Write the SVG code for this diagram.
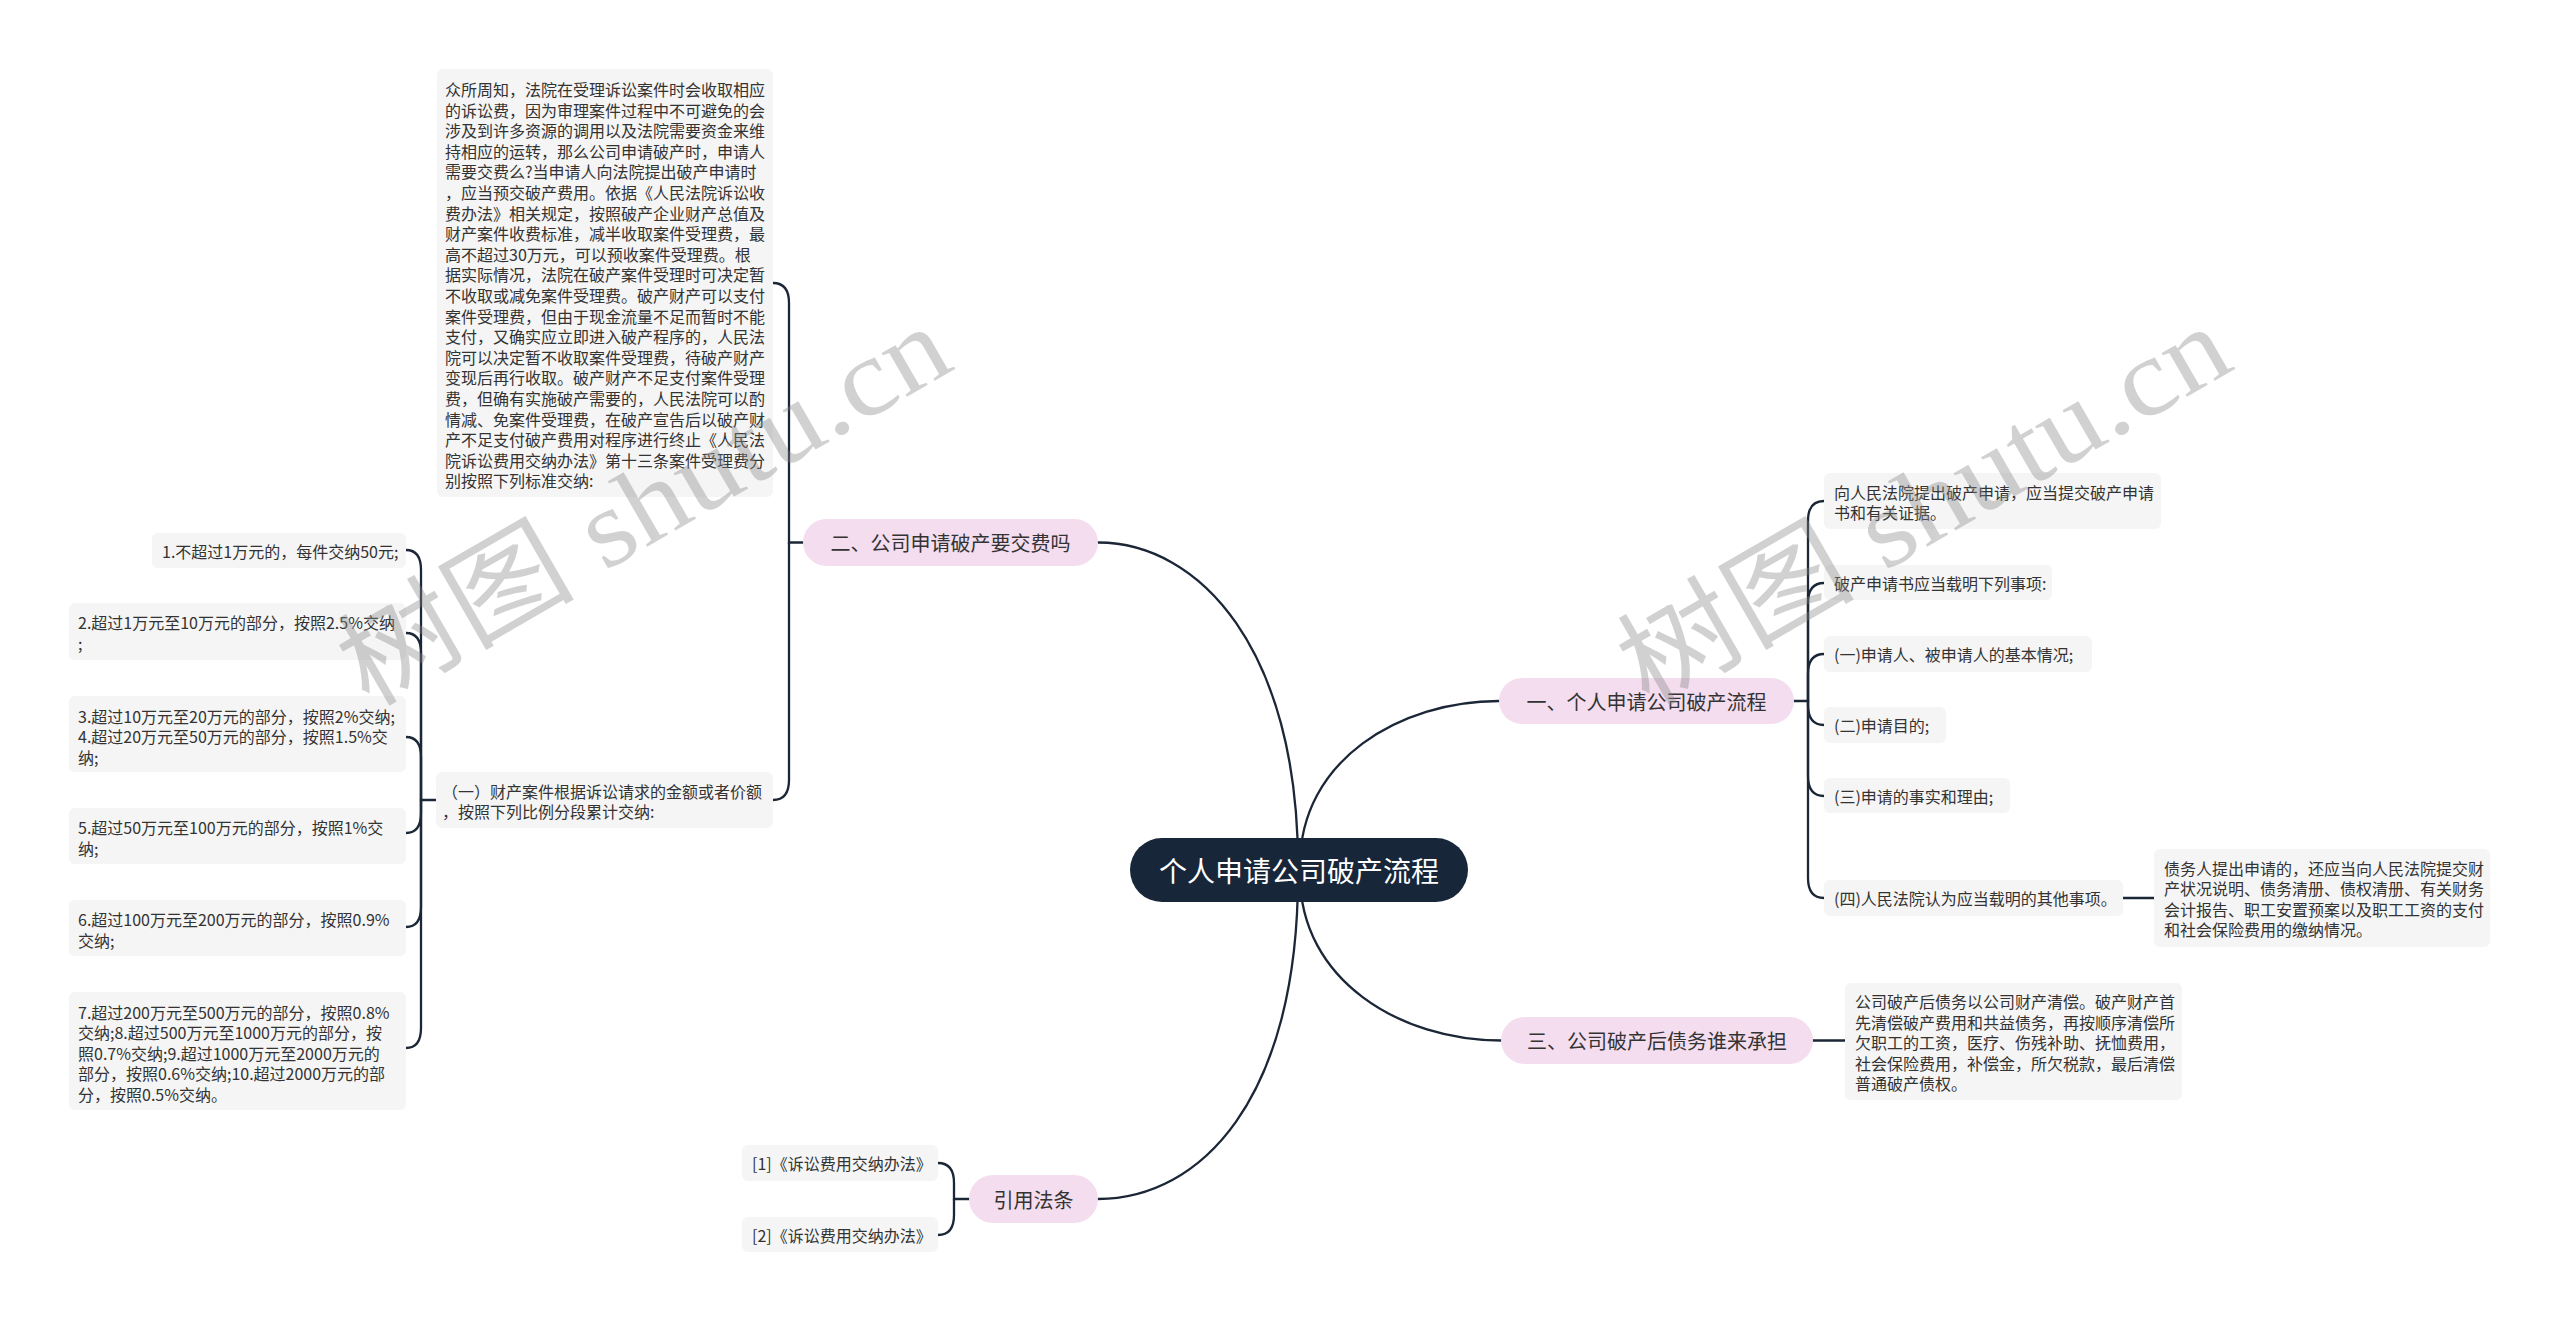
<svg xmlns="http://www.w3.org/2000/svg" width="2560" height="1322" viewBox="0 0 2560 1322">
<style>
.t{font-family:"Noto Sans CJK SC","Noto Sans",sans-serif;font-size:16px;fill:#333;dominant-baseline:central}
.b{font-family:"Noto Sans CJK SC","Noto Sans",sans-serif;font-size:20px;fill:#333;dominant-baseline:central;text-anchor:middle}
.r{font-family:"Noto Sans CJK SC","Noto Sans",sans-serif;font-size:28px;fill:#ffffff;dominant-baseline:central;text-anchor:middle}
.leaf{fill:#f5f5f5}
.br{fill:#f4ddef}
.ln{fill:none;stroke:#1b2636;stroke-width:2.3;stroke-linecap:round}
.wm{font-family:"Liberation Serif","Noto Sans CJK SC",serif;font-size:110px;fill:#888;opacity:0.38}
</style>
<rect width="2560" height="1322" fill="#ffffff"/>
<g id="connectors">
<path class="ln" d="M1098,542.5 C1200,542.5 1298,650 1298,865"/>
<path class="ln" d="M1300,865 C1300,760 1400,701 1499,701"/>
<path class="ln" d="M1300,875 C1300,980 1400,1040.5 1501,1040.5"/>
<path class="ln" d="M1298,875 C1298,1100 1200,1199 1098,1199"/>
<path class="ln" d="M803,542.5 H789 V303 Q789,283 773,283"/>
<path class="ln" d="M789,542.5 V780 Q789,800 773,800"/>
<path class="ln" d="M436,800 H421 V570 Q421,550 406,550"/>
<path class="ln" d="M421,800 V653 Q421,633 406,633"/>
<path class="ln" d="M421,800 V757 Q421,737 406,737"/>
<path class="ln" d="M421,800 V813 Q421,833 406,833"/>
<path class="ln" d="M421,800 V907 Q421,927 406,927"/>
<path class="ln" d="M421,800 V1028 Q421,1048 406,1048"/>
<path class="ln" d="M1794,701 H1808 V521 Q1808,501 1824,501"/>
<path class="ln" d="M1808,701 V603 Q1808,583 1824,583"/>
<path class="ln" d="M1808,701 V674 Q1808,654 1824,654"/>
<path class="ln" d="M1808,701 V705 Q1808,725 1824,725"/>
<path class="ln" d="M1808,701 V776 Q1808,796 1824,796"/>
<path class="ln" d="M1808,701 V878 Q1808,898 1824,898"/>
<path class="ln" d="M2123,898 H2154"/>
<path class="ln" d="M1813,1040.5 H1845"/>
<path class="ln" d="M969,1199 H954 V1183 Q954,1163 938,1163"/>
<path class="ln" d="M954,1199 V1215 Q954,1235 938,1235"/>
</g>
<g id="root">
<rect x="1130" y="838" width="338" height="64" rx="32" fill="#18263a"/>
<text class="r" x="1299" y="870">个人申请公司破产流程</text>
</g>
<g id="b2">
<rect class="br" x="803" y="519" width="295" height="47" rx="23.5"/>
<text class="b" x="950.5" y="542.5">二、公司申请破产要交费吗</text>
</g>
<g id="b1">
<rect class="br" x="1499" y="678" width="295" height="46" rx="23"/>
<text class="b" x="1646.5" y="701">一、个人申请公司破产流程</text>
</g>
<g id="b3">
<rect class="br" x="1501" y="1017" width="312" height="47" rx="23.5"/>
<text class="b" x="1657" y="1040.5">三、公司破产后债务谁来承担</text>
</g>
<g id="b4">
<rect class="br" x="969" y="1175" width="129" height="48" rx="24"/>
<text class="b" x="1033.5" y="1199">引用法条</text>
</g>
<g id="a-text">
<rect class="leaf" x="437" y="69" width="336" height="428" rx="6"/>
<text class="t">
<tspan x="445" y="89">众所周知，法院在受理诉讼案件时会收取相应</tspan>
<tspan x="445" y="109.6">的诉讼费，因为审理案件过程中不可避免的会</tspan>
<tspan x="445" y="130.2">涉及到许多资源的调用以及法院需要资金来维</tspan>
<tspan x="445" y="150.8">持相应的运转，那么公司申请破产时，申请人</tspan>
<tspan x="445" y="171.4">需要交费么?当申请人向法院提出破产申请时</tspan>
<tspan x="445" y="192">，应当预交破产费用。依据《人民法院诉讼收</tspan>
<tspan x="445" y="212.6">费办法》相关规定，按照破产企业财产总值及</tspan>
<tspan x="445" y="233.2">财产案件收费标准，减半收取案件受理费，最</tspan>
<tspan x="445" y="253.8">高不超过30万元，可以预收案件受理费。根</tspan>
<tspan x="445" y="274.4">据实际情况，法院在破产案件受理时可决定暂</tspan>
<tspan x="445" y="295">不收取或减免案件受理费。破产财产可以支付</tspan>
<tspan x="445" y="315.6">案件受理费，但由于现金流量不足而暂时不能</tspan>
<tspan x="445" y="336.2">支付，又确实应立即进入破产程序的，人民法</tspan>
<tspan x="445" y="356.8">院可以决定暂不收取案件受理费，待破产财产</tspan>
<tspan x="445" y="377.4">变现后再行收取。破产财产不足支付案件受理</tspan>
<tspan x="445" y="398">费，但确有实施破产需要的，人民法院可以酌</tspan>
<tspan x="445" y="418.6">情减、免案件受理费，在破产宣告后以破产财</tspan>
<tspan x="445" y="439.2">产不足支付破产费用对程序进行终止《人民法</tspan>
<tspan x="445" y="459.8">院诉讼费用交纳办法》第十三条案件受理费分</tspan>
<tspan x="445" y="480.4">别按照下列标准交纳:</tspan>
</text>
</g>
<g id="b-text">
<rect class="leaf" x="436" y="772" width="337" height="56" rx="6"/>
<text class="t">
<tspan x="442" y="790.5">（一）财产案件根据诉讼请求的金额或者价额</tspan>
<tspan x="442" y="811">，按照下列比例分段累计交纳:</tspan>
</text>
</g>
<g id="c1">
<rect class="leaf" x="152" y="533" width="254" height="35" rx="6"/>
<text class="t" x="162" y="551">1.不超过1万元的，每件交纳50元;</text>
</g>
<g id="c2">
<rect class="leaf" x="69" y="603" width="337" height="57" rx="6"/>
<text class="t"><tspan x="78" y="622">2.超过1万元至10万元的部分，按照2.5%交纳</tspan><tspan x="78" y="643">;</tspan></text>
</g>
<g id="c3">
<rect class="leaf" x="69" y="696" width="337" height="76" rx="6"/>
<text class="t"><tspan x="78" y="715.5">3.超过10万元至20万元的部分，按照2%交纳;</tspan><tspan x="78" y="736">4.超过20万元至50万元的部分，按照1.5%交</tspan><tspan x="78" y="756.5">纳;</tspan></text>
</g>
<g id="c5">
<rect class="leaf" x="69" y="808" width="337" height="56" rx="6"/>
<text class="t"><tspan x="78" y="827">5.超过50万元至100万元的部分，按照1%交</tspan><tspan x="78" y="847.5">纳;</tspan></text>
</g>
<g id="c6">
<rect class="leaf" x="69" y="900" width="337" height="56" rx="6"/>
<text class="t"><tspan x="78" y="919">6.超过100万元至200万元的部分，按照0.9%</tspan><tspan x="78" y="939.5">交纳;</tspan></text>
</g>
<g id="c7">
<rect class="leaf" x="69" y="992" width="337" height="118" rx="6"/>
<text class="t"><tspan x="78" y="1011.5">7.超过200万元至500万元的部分，按照0.8%</tspan><tspan x="78" y="1032">交纳;8.超过500万元至1000万元的部分，按</tspan><tspan x="78" y="1052.5">照0.7%交纳;9.超过1000万元至2000万元的</tspan><tspan x="78" y="1073">部分，按照0.6%交纳;10.超过2000万元的部</tspan><tspan x="78" y="1093.5">分，按照0.5%交纳。</tspan></text>
</g>
<g id="l1">
<rect class="leaf" x="1824" y="473" width="337" height="56" rx="6"/>
<text class="t"><tspan x="1834" y="491.5">向人民法院提出破产申请，应当提交破产申请</tspan><tspan x="1834" y="512">书和有关证据。</tspan></text>
</g>
<g id="l2">
<rect class="leaf" x="1824" y="565" width="228" height="35" rx="6"/>
<text class="t" x="1834" y="583">破产申请书应当载明下列事项:</text>
</g>
<g id="l3">
<rect class="leaf" x="1824" y="636" width="268" height="36" rx="6"/>
<text class="t" x="1834" y="654">(一)申请人、被申请人的基本情况;</text>
</g>
<g id="l4">
<rect class="leaf" x="1824" y="707" width="122" height="36" rx="6"/>
<text class="t" x="1834" y="725">(二)申请目的;</text>
</g>
<g id="l5">
<rect class="leaf" x="1824" y="778" width="186" height="35" rx="6"/>
<text class="t" x="1834" y="796">(三)申请的事实和理由;</text>
</g>
<g id="l6">
<rect class="leaf" x="1824" y="880" width="299" height="36" rx="6"/>
<text class="t" x="1834" y="898">(四)人民法院认为应当载明的其他事项。</text>
</g>
<g id="l7">
<rect class="leaf" x="2154" y="849" width="336" height="98" rx="6"/>
<text class="t"><tspan x="2164" y="867.5">债务人提出申请的，还应当向人民法院提交财</tspan><tspan x="2164" y="888">产状况说明、债务清册、债权清册、有关财务</tspan><tspan x="2164" y="908.5">会计报告、职工安置预案以及职工工资的支付</tspan><tspan x="2164" y="929">和社会保险费用的缴纳情况。</tspan></text>
</g>
<g id="t1">
<rect class="leaf" x="1845" y="983" width="337" height="117" rx="6"/>
<text class="t"><tspan x="1855" y="1001">公司破产后债务以公司财产清偿。破产财产首</tspan><tspan x="1855" y="1021.5">先清偿破产费用和共益债务，再按顺序清偿所</tspan><tspan x="1855" y="1042">欠职工的工资，医疗、伤残补助、抚恤费用，</tspan><tspan x="1855" y="1062.5">社会保险费用，补偿金，所欠税款，最后清偿</tspan><tspan x="1855" y="1083">普通破产债权。</tspan></text>
</g>
<g id="r1">
<rect class="leaf" x="742" y="1145" width="196" height="36" rx="6"/>
<text class="t" x="752" y="1163">[1]《诉讼费用交纳办法》</text>
</g>
<g id="r2">
<rect class="leaf" x="742" y="1217" width="196" height="35" rx="6"/>
<text class="t" x="752" y="1235">[2]《诉讼费用交纳办法》</text>
</g>
<g id="watermarks">
<text class="wm" transform="translate(368,708) rotate(-30)" textLength="680" lengthAdjust="spacingAndGlyphs">树图 shutu.cn</text>
<text class="wm" transform="translate(1648,708) rotate(-30)" textLength="680" lengthAdjust="spacingAndGlyphs">树图 shutu.cn</text>
</g>
</svg>
